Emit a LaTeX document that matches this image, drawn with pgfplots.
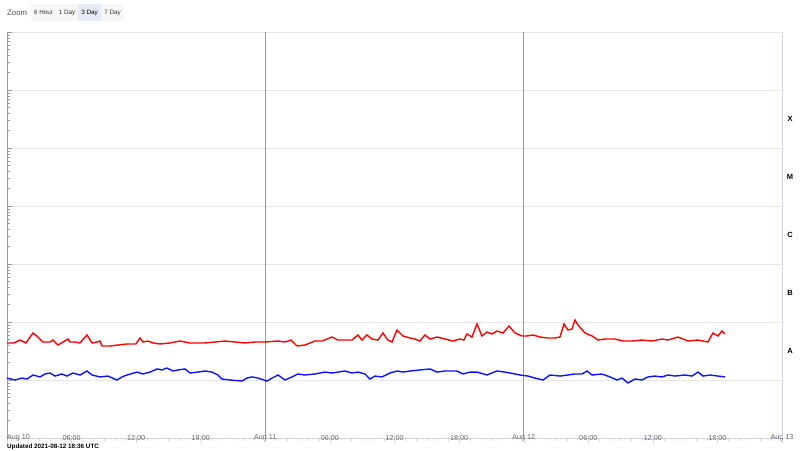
\documentclass[border=0pt]{standalone}
\usepackage{pgfplots}
\pgfplotsset{compat=1.18}
\usepackage{fontspec}
\setmainfont{Liberation Sans}
\definecolor{gridc}{HTML}{E6E6E6}
\definecolor{axisc}{HTML}{CCD6EB}
\definecolor{tickc}{HTML}{666666}
\definecolor{dayc}{HTML}{999999}
\definecolor{btn}{HTML}{F7F7F7}
\definecolor{btnsel}{HTML}{E6EBF5}
\definecolor{lred}{HTML}{FF0000}
\definecolor{lblue}{HTML}{0A14FF}
\begin{document}
\begin{tikzpicture}[x=1pt,y=1pt]
\useasboundingbox (0,0) rectangle (800,450);
% zoom buttons
\node[anchor=west,inner sep=0pt,text=tickc!80!black,font=\fontsize{7.8}{9}\selectfont] at (7,437) {Zoom};
\fill[btn] (31,429) rectangle (56,446);
\node[font=\fontsize{6.3}{8}\selectfont,text=black!80] at (43.5,437.5) {6 Hour};
\fill[btn] (56,429) rectangle (78,446);
\node[font=\fontsize{6.3}{8}\selectfont,text=black!80] at (67,437.5) {1 Day};
\fill[btnsel] (78,429) rectangle (101,446);
\node[font=\fontsize{6.3}{8}\selectfont,text=black] at (89.5,437.5) {3 Day};
\fill[btn] (101,429) rectangle (124,446);
\node[font=\fontsize{6.3}{8}\selectfont,text=black!80] at (112.5,437.5) {7 Day};
\node[anchor=west,inner sep=0pt,font=\bfseries\fontsize{6.3}{8}\selectfont] at (7,3.5) {Updated 2021-08-12 18:36 UTC};
\begin{axis}[
  at={(7pt,12pt)}, anchor=south west, scale only axis,
  width=775pt, height=406pt,
  xmin=0, xmax=72, ymode=log, ymin=1e-9, ymax=1e-2,
  clip=false,
  axis x line*=bottom, axis y line*=left,
  x axis line style={draw=axisc, -},
  y axis line style={draw=dayc, -},
  xtick={0,6,...,72},
  xticklabels={\makebox[0pt][l]{Aug 10},06:00,12:00,18:00,Aug 11,06:00,12:00,18:00,Aug 12,06:00,12:00,18:00,Aug 13},
  minor x tick num=5,
  xtick align=outside,
  xticklabel style={anchor=center, font=\fontsize{7.2}{8}\selectfont, text=tickc, yshift=5pt},
  x tick style={draw=axisc},
  ytick={1e-9,1e-8,1e-7,1e-6,1e-5,1e-4,1e-3,1e-2},
  yticklabels={},
  ytick align=inside,
  y tick style={draw=dayc},
  major tick length=5pt, minor tick length=3pt,
  ymajorgrids, major grid style={draw=gridc},
  extra x ticks={24,48},
  extra x tick labels={},
  extra x tick style={grid=major, major grid style={draw=dayc, line width=0.8pt}, major tick length=0pt},
]
\addplot[lred, line width=1.4pt] table {
0 4.35e-8
0.65 4.35e-8
1.21 4.89e-8
1.77 4.35e-8
2.42 6.46e-8
2.88 5.51e-8
3.34 4.52e-8
4.0 4.52e-8
4.27 4.89e-8
4.74 4.01e-8
5.2 4.52e-8
5.67 5.09e-8
5.85 4.52e-8
6.32 4.52e-8
6.78 4.35e-8
7.43 5.97e-8
7.9 4.35e-8
8.36 4.52e-8
8.64 4.70e-8
8.83 3.86e-8
9.57 3.86e-8
10.31 4.01e-8
11.15 4.18e-8
11.98 4.18e-8
12.36 5.30e-8
12.63 4.52e-8
13.10 4.70e-8
13.56 4.35e-8
14.21 4.18e-8
15.14 4.35e-8
16.07 4.70e-8
16.54 4.52e-8
17.0 4.35e-8
18.39 4.35e-8
19.32 4.52e-8
20.25 4.70e-8
21.18 4.52e-8
22.11 4.35e-8
23.04 4.52e-8
23.97 4.52e-8
25.18 4.70e-8
25.83 4.52e-8
26.38 4.89e-8
26.66 4.35e-8
26.94 3.86e-8
27.68 4.01e-8
28.61 4.70e-8
29.26 4.70e-8
30.19 5.51e-8
30.75 4.89e-8
31.40 4.89e-8
32.05 4.89e-8
32.61 5.97e-8
32.98 4.89e-8
33.44 5.97e-8
33.91 5.09e-8
34.47 4.89e-8
34.93 6.46e-8
35.39 4.89e-8
35.77 4.52e-8
36.23 7.28e-8
36.79 5.74e-8
37.44 5.30e-8
37.90 5.09e-8
38.37 4.70e-8
38.83 5.97e-8
39.30 5.09e-8
39.95 5.51e-8
40.69 5.09e-8
41.43 4.70e-8
42.08 5.09e-8
42.45 4.89e-8
42.73 6.21e-8
43.20 5.51e-8
43.66 9.24e-8
44.13 5.74e-8
44.59 6.72e-8
45.06 6.21e-8
45.52 7.00e-8
46.08 6.46e-8
46.64 8.53e-8
47.20 6.46e-8
47.85 5.74e-8
48.31 5.74e-8
48.87 5.97e-8
49.52 5.51e-8
50.17 5.30e-8
50.91 5.30e-8
51.38 5.51e-8
51.75 9.24e-8
52.12 7.28e-8
52.49 7.57e-8
52.77 1.083e-7
53.05 8.88e-8
53.70 6.46e-8
54.35 5.74e-8
54.91 4.89e-8
55.56 5.09e-8
56.49 5.09e-8
57.23 4.70e-8
58.06 4.70e-8
58.99 4.89e-8
59.92 4.70e-8
60.85 5.09e-8
61.41 4.89e-8
62.34 5.51e-8
63.27 4.70e-8
64.19 4.89e-8
65.12 4.52e-8
65.59 6.46e-8
66.05 5.74e-8
66.42 7.00e-8
66.70 6.21e-8
};
\addplot[lblue, line width=1.4pt] table {
0 1.08e-8
0.74 1.00e-8
1.39 1.08e-8
1.86 1.04e-8
2.42 1.22e-8
3.07 1.13e-8
3.53 1.27e-8
4.0 1.32e-8
4.46 1.17e-8
5.11 1.27e-8
5.57 1.17e-8
6.13 1.32e-8
6.78 1.22e-8
7.43 1.43e-8
7.90 1.22e-8
8.64 1.13e-8
9.38 1.17e-8
10.22 1.00e-8
10.68 1.13e-8
11.15 1.22e-8
12.08 1.37e-8
12.63 1.27e-8
13.28 1.37e-8
13.94 1.55e-8
14.40 1.49e-8
14.86 1.61e-8
15.42 1.43e-8
15.89 1.49e-8
16.54 1.55e-8
17.0 1.32e-8
17.74 1.37e-8
18.39 1.43e-8
19.04 1.37e-8
19.60 1.22e-8
19.97 1.04e-8
20.72 1.00e-8
21.83 0.96e-8
22.30 1.08e-8
22.76 1.13e-8
23.32 1.08e-8
23.88 1.00e-8
24.15 0.96e-8
24.62 1.08e-8
25.18 1.22e-8
25.83 1.00e-8
26.48 1.13e-8
27.03 1.27e-8
27.68 1.22e-8
28.61 1.27e-8
29.54 1.37e-8
30.19 1.32e-8
30.75 1.37e-8
31.40 1.43e-8
32.05 1.32e-8
32.61 1.37e-8
33.26 1.27e-8
33.72 1.04e-8
34.19 1.17e-8
34.84 1.13e-8
35.58 1.32e-8
36.23 1.43e-8
36.79 1.37e-8
37.44 1.43e-8
38.37 1.49e-8
39.30 1.55e-8
39.95 1.37e-8
40.69 1.43e-8
41.80 1.43e-8
42.36 1.27e-8
43.01 1.37e-8
43.66 1.37e-8
44.59 1.22e-8
45.52 1.43e-8
46.27 1.37e-8
46.73 1.32e-8
47.66 1.22e-8
48.40 1.17e-8
49.05 1.08e-8
49.80 1.00e-8
50.45 1.22e-8
51.38 1.17e-8
52.12 1.22e-8
52.77 1.27e-8
53.42 1.27e-8
53.89 1.43e-8
54.35 1.22e-8
55.28 1.27e-8
56.02 1.13e-8
56.67 1.00e-8
57.13 1.08e-8
57.69 0.89e-8
58.34 1.04e-8
58.99 1.00e-8
59.55 1.13e-8
60.20 1.17e-8
60.85 1.13e-8
61.41 1.22e-8
62.06 1.17e-8
62.99 1.22e-8
63.64 1.17e-8
64.19 1.37e-8
64.66 1.17e-8
65.31 1.22e-8
66.05 1.17e-8
66.70 1.13e-8
};
\draw[axisc] (axis cs:72,1e-9) -- (axis cs:72,1e-2);
\node[font=\bfseries\fontsize{7.5}{9}\selectfont] at (axis cs:72,3.16e-4) [xshift=8pt] {X};
\node[font=\bfseries\fontsize{7.5}{9}\selectfont] at (axis cs:72,3.16e-5) [xshift=8pt] {M};
\node[font=\bfseries\fontsize{7.5}{9}\selectfont] at (axis cs:72,3.16e-6) [xshift=8pt] {C};
\node[font=\bfseries\fontsize{7.5}{9}\selectfont] at (axis cs:72,3.16e-7) [xshift=8pt] {B};
\node[font=\bfseries\fontsize{7.5}{9}\selectfont] at (axis cs:72,3.16e-8) [xshift=8pt] {A};
\end{axis}
\end{tikzpicture}
\end{document}
